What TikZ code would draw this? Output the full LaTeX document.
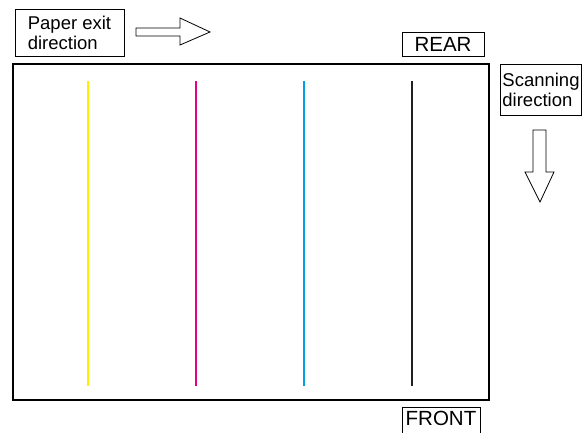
\documentclass[tikz,border=0pt]{standalone}
\usepackage{fontspec}
\setmainfont{Liberation Sans}
\usetikzlibrary{positioning}
\definecolor{stYellow}{RGB}{255,236,0}
\definecolor{stMagenta}{RGB}{228,0,126}
\definecolor{stCyan}{RGB}{0,160,230}
\definecolor{stBlack}{RGB}{35,31,32}

\begin{document}
\begin{tikzpicture}[x=1pt,y=-1pt,
      lbl/.style={draw,thick,inner sep=0pt,align=left,
                  font=\fontsize{18.5}{20}\selectfont},
      side/.style={lbl,font=\fontsize{20.5}{22}\selectfont},
      streak/.style={line width=2pt},
      hollow/.style={draw,thick,fill=white,line join=miter}]
    \useasboundingbox (0,0) rectangle (588,432);
    \begin{scope}
    \clip (0,0) rectangle (588,432);
    % paper sheet
    \draw[line width=1.5pt] (13,64) coordinate (sheetNW) rectangle (489,400) coordinate (sheetSE);
    % colour streaks
    \foreach \xx/\col/\nm in {88/stYellow/y,196/stMagenta/m,304/stCyan/c,412/stBlack/k}{
      \coordinate (top-\nm) at (\xx,81);
      \coordinate (bot-\nm) at (\xx,386);
      \draw[streak,\col] (top-\nm) -- (bot-\nm);
    }
    % labels
    \node[lbl,minimum width=109pt,minimum height=47pt] (exit) at (69.5,32.5)
      {Paper exit\\direction};
    \node[side,minimum width=82pt,minimum height=24pt] (rear) at (443,44) {REAR};
    \node[lbl,minimum width=81pt,minimum height=51pt] (scan) at (541,89.5)
      {Scanning\\direction};
    \node[side,minimum width=78pt,minimum height=30pt,anchor=north,
          text depth=8pt] (front) at (441,407) {FRONT};
    % direction arrows
    \draw[hollow] (136,28) -- (180,28) -- (180,18) -- (210,32) -- (180,45)
      -- (180,36) -- (136,36) -- cycle;
    \draw[hollow] (533,130) -- (546,130) -- (546,172) -- (554,172) -- (540,202)
      -- (525,172) -- (533,172) -- cycle;
    \end{scope}
  \end{tikzpicture}
\end{document}
